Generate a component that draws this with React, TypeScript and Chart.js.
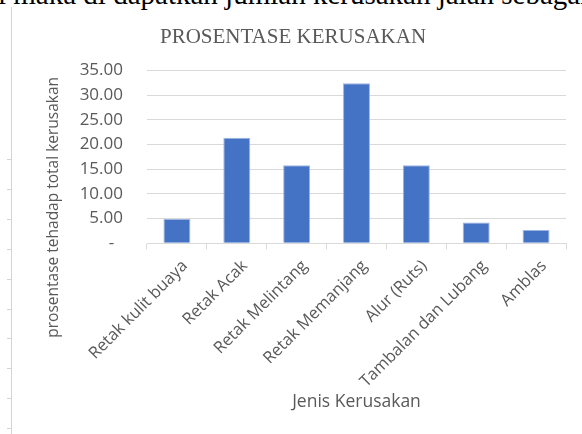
import React, { useEffect, useRef } from "react";
import { Chart, registerables } from "chart.js";

Chart.register(...registerables);

const categories = [
  "Retak kulit buaya",
  "Retak Acak",
  "Retak Melintang",
  "Retak Memanjang",
  "Alur (Ruts)",
  "Tambalan dan Lubang",
  "Amblas",
];
const values = [4.9, 21.4, 15.8, 32.4, 15.8, 4.2, 2.7];
const yMin = 0;
const yMax = 35;
const yStep = 5;
const chartTitle = "PROSENTASE KERUSAKAN";
const xTitle = "Jenis Kerusakan";
const yTitle = "prosentase tehadap total kerusakan";
const pageText = "i maka di dapatkan jumlah kerusakan jalan sebagai";

const GRAY = "#595959";
const GRID = "#d9d9d9";
const CANVAS_LEFT = 20;

const yTitlePlugin = {
  id: "yTitleCustom",
  afterDraw(chart: any) {
    const { ctx, chartArea } = chart;
    ctx.save();
    ctx.translate(chartArea.left - 93, chartArea.bottom - 36);
    ctx.rotate(-Math.PI / 2);
    ctx.font = '15.5px "Open Sans"';
    ctx.fillStyle = GRAY;
    ctx.textAlign = "center";
    ctx.textBaseline = "middle";
    ctx.fillText(yTitle, 0, 0);
    ctx.restore();
  },
};

export default function App() {
  const ref = useRef<HTMLCanvasElement | null>(null);

  useEffect(() => {
    if (!ref.current) return;
    const chart = new Chart(ref.current, {
      type: "bar",
      data: {
        labels: categories,
        datasets: [
          {
            data: values,
            backgroundColor: "#4472C4",
            borderColor: "#9db4e0",
            borderWidth: 1,
            barPercentage: 0.45,
            categoryPercentage: 1,
          },
        ],
      },
      options: {
        animation: false,
        responsive: false,
        maintainAspectRatio: false,
        layout: { padding: { left: 0, right: 16, top: 0, bottom: 0 } },
        plugins: {
          legend: { display: false },
          tooltip: { enabled: false },
          title: {
            display: true,
            text: chartTitle,
            color: GRAY,
            font: { family: '"Liberation Serif"', size: 21, weight: "normal", lineHeight: 1.2 },
            padding: { top: 24.4, bottom: 20.9 },
          },
        },
        scales: {
          x: {
            grid: {
              display: true,
              drawOnChartArea: false,
              drawTicks: true,
              tickLength: 6,
              color: GRID,
            },
            border: { display: true, color: GRID },
            ticks: {
              autoSkip: false,
              minRotation: 45,
              maxRotation: 45,
              color: GRAY,
              font: { family: '"Open Sans"', size: 16.5 },
              padding: 7,
              labelOffset: 8,
            },
            title: {
              display: true,
              text: xTitle,
              color: GRAY,
              font: { family: '"Open Sans"', size: 17.5, lineHeight: 1.2 },
              padding: { top: 0, bottom: 21.5 },
            },
            afterFit: (scale: any) => {
              scale.height = 434 - 243.3;
            },
          },
          y: {
            min: yMin,
            max: yMax,
            grid: { color: GRID, drawTicks: false },
            border: { display: false },
            ticks: {
              stepSize: yStep,
              color: GRAY,
              font: { family: '"Open Sans"', size: 17 },
              padding: 24,
              callback: (v: any) => (Number(v) === 0 ? "-\u00a0\u00a0" : Number(v).toFixed(2)),
            },
            afterFit: (scale: any) => {
              scale.width = 147 - CANVAS_LEFT;
            },
          },
        },
      },
      plugins: [yTitlePlugin],
    });
    return () => chart.destroy();
  }, []);

  const ticks = [];
  for (let i = 0; i < 10; i++) {
    ticks.push(
      <div
        key={i}
        style={{
          position: "absolute",
          left: 7,
          top: 159 + i * 29.9,
          width: 4,
          height: 1,
          background: "#d4d4d4",
        }}
      />
    );
  }

  return (
    <div
      style={{
        position: "fixed",
        left: 0,
        top: 0,
        width: 582,
        height: 434,
        overflow: "hidden",
        background: "#ffffff",
      }}
    >
      <div
        style={{
          position: "absolute",
          left: -2,
          top: -20.5,
          fontFamily: '"Liberation Serif", serif',
          fontSize: 29,
          lineHeight: "29px",
          whiteSpace: "nowrap",
          color: "#000",
        }}
      >
        {pageText}
      </div>
      <div
        style={{
          position: "absolute",
          left: 11,
          top: 7,
          width: 1,
          height: 427,
          background: "#d4d4d4",
        }}
      />
      {ticks}
      <canvas
        ref={ref}
        width={562}
        height={434}
        style={{ position: "absolute", left: CANVAS_LEFT, top: 0, width: 562, height: 434 }}
      />
    </div>
  );
}
